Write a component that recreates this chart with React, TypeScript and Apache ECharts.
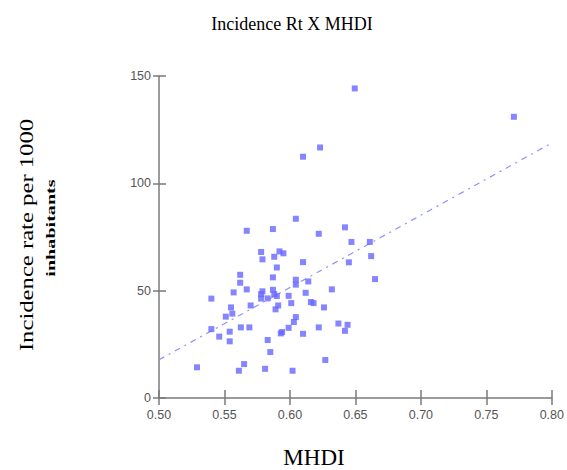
import React, { useEffect, useRef } from "react";
import * as echarts from "echarts";

const mhdi = [
  0.529, 0.54, 0.54, 0.546, 0.551, 0.555, 0.556, 0.557, 0.554, 0.554,
  0.561, 0.565, 0.562, 0.562, 0.5625, 0.567, 0.57, 0.567, 0.569, 0.578,
  0.579, 0.578, 0.579, 0.578, 0.583, 0.581, 0.583, 0.585, 0.587, 0.588,
  0.59, 0.587, 0.587, 0.588, 0.59, 0.589, 0.591, 0.592, 0.595, 0.593,
  0.594, 0.599, 0.599, 0.601, 0.602, 0.6045, 0.6045, 0.6045, 0.6045, 0.603,
  0.61, 0.612, 0.614, 0.61, 0.616, 0.618, 0.622, 0.622, 0.626, 0.627,
  0.632, 0.637, 0.6495, 0.771, 0.623, 0.61, 0.642, 0.647, 0.661, 0.662,
  0.645, 0.665, 0.644, 0.642,
];
const incidenceRate = [
  14.3, 32.1, 46.3, 28.6, 37.9, 42.2, 39.3, 49.2, 30.9, 26.4,
  12.7, 15.8, 57.4, 53.7, 32.9, 50.6, 43.1, 77.9, 32.9, 68.0,
  64.6, 48.4, 49.7, 46.3, 46.4, 13.6, 27.0, 21.4, 78.7, 65.8,
  60.8, 56.2, 50.4, 48.4, 47.5, 41.3, 43.1, 68.3, 67.4, 30.1,
  30.7, 32.7, 47.6, 44.2, 12.7, 83.5, 55.1, 52.8, 37.7, 35.4,
  63.3, 49.0, 54.3, 29.9, 44.7, 44.2, 76.5, 32.9, 42.2, 17.7,
  50.6, 34.7, 144.2, 131.0, 116.7, 112.4, 79.5, 72.7, 72.7, 66.1,
  63.2, 55.4, 34.1, 31.3,
];
const trendX = [0.5, 0.8];
const trendY = [17.8, 118.8];

const titleText = "Incidence Rt X MHDI";
const xName = "MHDI";
const yNameLine1 = "Incidence rate per 1000";
const yNameLine2 = "inhabitants";

export default function App() {
  const ref = useRef<HTMLDivElement>(null);
  useEffect(() => {
    if (!ref.current) return;
    const chart = echarts.init(ref.current, null, { renderer: "svg" });
    const axisColor = "#7a7a7a";
    const labelStyle = {
      color: "#555",
      fontFamily: "Liberation Sans",
      fontSize: 12.5,
    };
    const serif = "Liberation Serif";
    chart.setOption({
      animation: false,
      backgroundColor: "#fff",
      grid: { left: 159, right: 13, top: 76, bottom: 72, containLabel: false },
      xAxis: [
        {
          type: "value",
          position: "bottom",
          min: 0.5,
          max: 0.8,
          interval: 0.05,
          axisLine: { show: true, lineStyle: { color: axisColor, width: 1.5 } },
          axisTick: { show: true, inside: false, length: 7, lineStyle: { color: axisColor, width: 1.5 } },
          axisLabel: { ...labelStyle, margin: 10, formatter: (v: number) => v.toFixed(2) },
          splitLine: { show: false },
        },
        {
          type: "value",
          position: "bottom",
          min: 0.5,
          max: 0.8,
          interval: 0.05,
          axisLine: { show: false },
          axisTick: { show: true, inside: true, length: 8, lineStyle: { color: axisColor, width: 1.5 } },
          axisLabel: { show: false },
          splitLine: { show: false },
        },
      ],
      yAxis: [
        {
          type: "value",
          position: "left",
          min: 0,
          max: 150,
          interval: 50,
          axisLine: { show: true, lineStyle: { color: axisColor, width: 1.5 } },
          axisTick: { show: true, inside: false, length: 6, lineStyle: { color: axisColor, width: 1.5 } },
          axisLabel: { ...labelStyle, margin: 8 },
          splitLine: { show: false },
        },
        {
          type: "value",
          position: "left",
          min: 0,
          max: 150,
          interval: 50,
          axisLine: { show: false },
          axisTick: { show: true, inside: true, length: 7, lineStyle: { color: axisColor, width: 1.5 } },
          axisLabel: { show: false },
          splitLine: { show: false },
        },
      ],
      series: [
        {
          type: "line",
          xAxisIndex: 0,
          yAxisIndex: 0,
          data: trendX.map((x, i) => [x, trendY[i]]),
          symbol: "none",
          silent: true,
          z: 1,
          lineStyle: { color: "#8f8fff", width: 1.2, type: [6, 5, 2, 5] },
        },
        {
          type: "scatter",
          xAxisIndex: 0,
          yAxisIndex: 0,
          data: mhdi.map((x, i) => [x, incidenceRate[i]]),
          symbol: "rect",
          symbolSize: 6,
          z: 2,
          itemStyle: { color: "#6666ff" },
        },
      ],
      graphic: [
        {
          type: "text",
          x: 292,
          y: 24,
          style: {
            text: titleText,
            font: `18px "${serif}"`,
            fill: "#000",
            textAlign: "center",
            textVerticalAlign: "middle",
          },
        },
        {
          type: "text",
          x: 314,
          y: 457,
          style: {
            text: xName,
            font: `23px "${serif}"`,
            fill: "#000",
            textAlign: "center",
            textVerticalAlign: "middle",
          },
        },
        {
          type: "text",
          x: 27,
          y: 235,
          rotation: Math.PI / 2,
          scaleX: 1.3,
          style: {
            text: yNameLine1,
            font: `19px "${serif}"`,
            fill: "#000",
            textAlign: "center",
            textVerticalAlign: "middle",
          },
        },
        {
          type: "text",
          x: 51,
          y: 228,
          rotation: Math.PI / 2,
          scaleX: 1.55,
          style: {
            text: yNameLine2,
            font: `bold 13px "${serif}"`,
            fill: "#000",
            textAlign: "center",
            textVerticalAlign: "middle",
          },
        },
      ],
    });
    return () => chart.dispose();
  }, []);
  return (
    <div
      ref={ref}
      style={{ position: "fixed", left: 0, top: 0, width: 567, height: 470 }}
    />
  );
}
